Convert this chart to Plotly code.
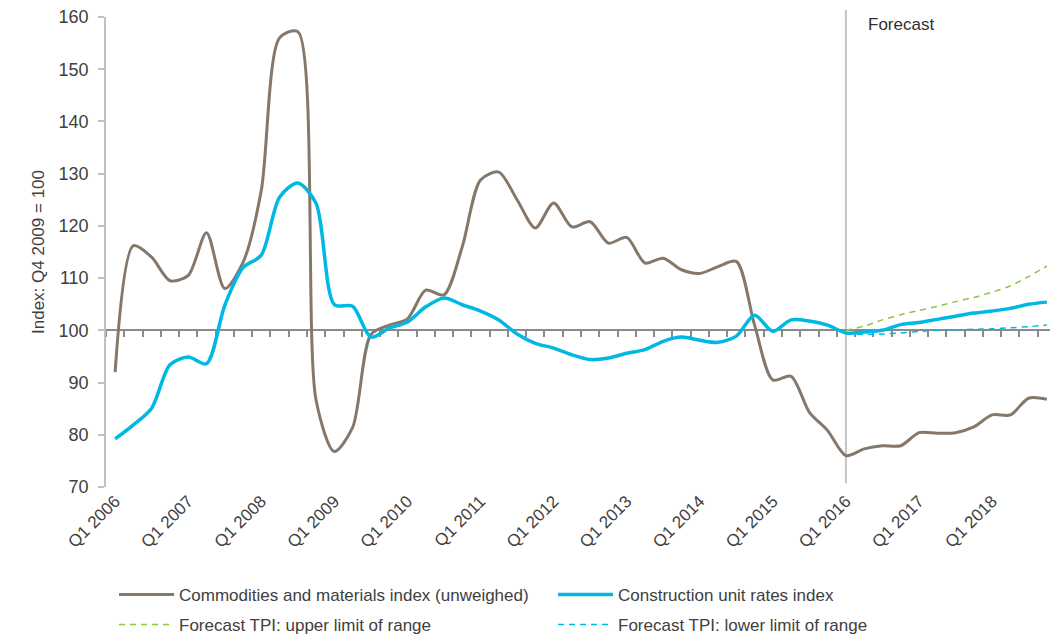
import plotly.graph_objects as go

# Quarterly periods, Q1 2006 .. Q4 2018
quarters = [f"Q{q} {y}" for y in range(2006, 2019) for q in range(1, 5)]
year_ticks = [f"Q1 {y}" for y in range(2006, 2019)]

commodities = [92, 116.2, 114, 109.5, 110.5, 118.7, 108, 113, 126.8, 156,
               157.2, 86.6, 76.8, 81.4, 99.2, 101, 102.2, 107.7, 106.8, 116,
               128.8, 130.3, 125, 119.6, 124.4, 119.8, 120.8, 116.7, 117.8, 112.9,
               113.8, 111.6, 110.9, 112.2, 113.2, 101, 90.5, 91.2, 84.3, 80.8,
               76, 77.3, 77.9, 77.9, 80.4, 80.3, 80.4, 81.5, 83.8, 83.8,
               87, 86.8]

construction = [79.2, 81.9, 85.1, 93.4, 94.9, 93.6, 104.8, 112, 114.4, 125.5,
                128.2, 124.3, 104.9, 104.6, 98.7, 100.4, 101.6, 104.5, 106.2, 104.9,
                103.7, 102, 99.3, 97.5, 96.6, 95.3, 94.4, 94.7, 95.6, 96.3,
                97.9, 98.7, 98.1, 97.7, 98.9, 102.9, 99.8, 102, 101.8, 101,
                99.5, 99.7, 100, 101.1, 101.5, 102.1, 102.7, 103.3, 103.7, 104.2,
                105, 105.4]

forecast_quarters = quarters[quarters.index("Q1 2016"):]
tpi_upper = [100, 100.8, 102.0, 103.0, 103.8, 104.6, 105.5, 106.3, 107.3, 108.5, 110.3, 112.3]
tpi_lower = [99.5, 99.2, 99.3, 99.5, 99.8, 100, 100.1, 100.2, 100.3, 100.5, 100.7, 101]

FONT = "Liberation Sans, Arial, sans-serif"
TXT = "#404040"
BROWN = "#85786a"
CYAN = "#00b8e4"
GREEN = "#8cc63f"

fig = go.Figure()

fig.add_trace(go.Scatter(
    x=quarters, y=commodities, mode="lines",
    line=dict(color=BROWN, width=3, shape="spline", smoothing=0.8),
    name="Commodities and materials index (unweighed)", legend="legend"))
fig.add_trace(go.Scatter(
    x=quarters, y=construction, mode="lines",
    line=dict(color=CYAN, width=3.5, shape="spline", smoothing=0.8),
    name="Construction unit rates index", legend="legend"))
fig.add_trace(go.Scatter(
    x=forecast_quarters, y=tpi_upper, mode="lines",
    line=dict(color=GREEN, width=1.5, dash="6px,5px", shape="spline", smoothing=0.6),
    name="Forecast TPI: upper limit of range", legend="legend2"))
fig.add_trace(go.Scatter(
    x=forecast_quarters, y=tpi_lower, mode="lines",
    line=dict(color=CYAN, width=1.5, dash="6px,5px", shape="spline", smoothing=0.6),
    name="Forecast TPI: lower limit of range", legend="legend2"))

# carrier trace for the baseline axis drawn through 100
fig.add_trace(go.Scatter(
    x=quarters, y=[None] * len(quarters), xaxis="x2", mode="lines",
    showlegend=False, hoverinfo="skip"))

x_range = [-0.5, len(quarters) - 0.5 - 0.33]
y_min, y_max = 70, 160

legend_style = dict(orientation="h", xanchor="left", yanchor="middle",
                    xref="container", yref="container",
                    entrywidth=369, itemwidth=55,
                    font=dict(size=17, color=TXT), bgcolor="rgba(0,0,0,0)")

fig.update_layout(
    width=1050, height=635,
    margin=dict(l=106, r=0, t=17, b=148, autoexpand=False),
    paper_bgcolor="white", plot_bgcolor="white",
    font=dict(family=FONT, size=17, color=TXT),
    xaxis=dict(
        type="category", categoryorder="array", categoryarray=quarters,
        range=x_range, tickmode="array", tickvals=year_ticks, ticktext=year_ticks,
        tickangle=-45, showline=False, showgrid=False, zeroline=False, ticks="",
        tickfont=dict(size=17, color=TXT)),
    xaxis2=dict(
        type="category", categoryorder="array", categoryarray=quarters,
        matches="x", overlaying="x", anchor="free",
        position=(100 - y_min) / (y_max - y_min),
        showline=True, linecolor="#8a8a8a", linewidth=1.5,
        ticks="outside", ticklen=6, tickwidth=1.5, tickcolor="#8a8a8a",
        tickson="boundaries", showticklabels=False, showgrid=False,
        layer="below traces"),
    yaxis=dict(
        range=[y_min, y_max], tickmode="linear", tick0=70, dtick=10,
        showline=True, linecolor="#c0c0c0", linewidth=1.5,
        ticks="outside", ticklen=6, tickcolor="#c0c0c0", tickwidth=1.5,
        ticklabelstandoff=6,
        showgrid=False, zeroline=False, tickfont=dict(size=18, color=TXT),
        title=dict(text="Index: Q4 2009 = 100", standoff=10,
                   font=dict(size=17, color=TXT))),
    legend=dict(x=0.1086, y=0.063, **legend_style),
    legend2=dict(x=0.1086, y=0.0158, **legend_style),
)

forecast_start = quarters.index("Q1 2016")
fig.add_shape(type="line", xref="x", yref="paper",
              x0=forecast_start, x1=forecast_start, y0=0.008, y1=1.015,
              line=dict(color="#c4c4c4", width=2), layer="below")

fig.add_annotation(text="Forecast", xref="x", yref="paper",
                   x=forecast_start, y=0.983, xanchor="left", yanchor="middle",
                   xshift=20, showarrow=False, font=dict(size=17, color="#303030"))

fig.write_html("out.html")
